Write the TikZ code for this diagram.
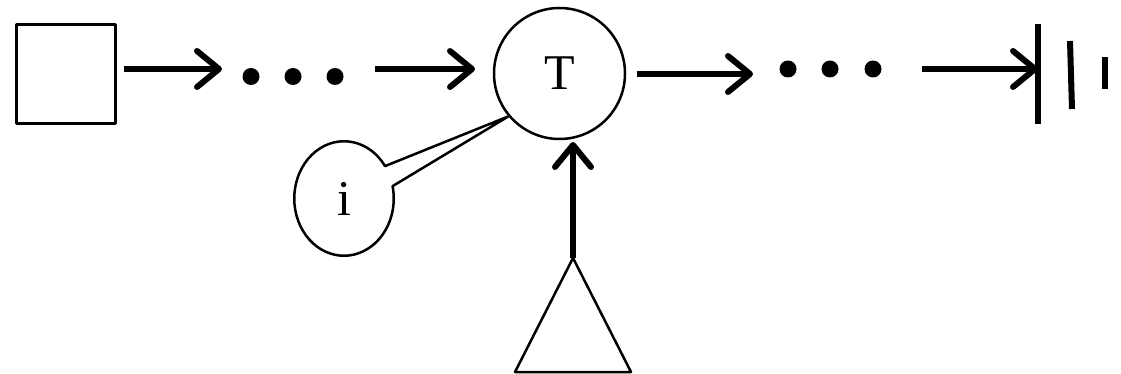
\documentclass[tikz,border=0pt]{standalone}
\usepackage{fontspec}
\setmainfont{Liberation Serif}
\usetikzlibrary{arrows.meta,shapes.callouts}
\begin{document}
\begin{tikzpicture}[x=1pt,y=-1pt,line join=round,
  thinline/.style={line width=2.5pt},
  arr/.style={line width=6pt,-{Straight Barb[length=22pt,width=36pt,round]}},
  dot/.style={circle,fill=black,inner sep=0pt,minimum size=17pt},
  lbl/.style={font=\fontsize{50}{60}\selectfont},
  bar/.style={line width=6pt}]
\useasboundingbox (0,0) rectangle (1121,374);
% nodes
\node[draw,thinline,minimum width=99pt,minimum height=99pt,inner sep=0pt] (sq) at (66,74) {};
\node[dot] (d1) at (251,76.5) {};
\node[dot] (d2) at (293,76.5) {};
\node[dot] (d3) at (335,76.5) {};
\node[draw,thinline,circle,minimum size=131pt,inner sep=0pt,lbl] (T) at (559.5,73.5) {T};
\node[draw,thinline,ellipse callout,minimum width=99.5pt,minimum height=114.5pt,inner sep=0pt,
  callout absolute pointer={(T.220)},callout pointer arc=22,lbl] (i) at (344,198.5) {i};
\node[dot] (d4) at (788,69) {};
\node[dot] (d5) at (830,69) {};
\node[dot] (d6) at (873,69) {};
% bars
\coordinate (b1t) at (1038,24); \coordinate (b1b) at (1038,124);
\coordinate (b2t) at (1070,41); \coordinate (b2b) at (1072,109);
\coordinate (b3t) at (1105,57); \coordinate (b3b) at (1105,89);
\draw[bar] (b1t) -- (b1b);
\draw[bar] (b2t) -- (b2b);
\draw[bar] (b3t) -- (b3b);
% triangle
\coordinate (tri) at (573,258);
\coordinate (triL) at (515,372);
\coordinate (triR) at (631,372);
\draw[thinline] (tri) -- (triL) -- (triR) -- cycle;
% arrows
\coordinate (a1s) at (124,69); \coordinate (a1e) at (222,69);
\coordinate (a2s) at (375,69); \coordinate (a2e) at (475,69);
\coordinate (a3s) at (637,74); \coordinate (a3e) at (753,74);
\coordinate (a4s) at (922,69);
\coordinate (vtip) at (573,142);
\draw[arr] (a1s) -- (a1e);
\draw[arr] (a2s) -- (a2e);
\draw[arr] (a3s) -- (a3e);
\draw[arr] (a4s) -- (a4s -| b1t);
\draw[arr] (tri) -- (vtip);
\end{tikzpicture}
\end{document}
